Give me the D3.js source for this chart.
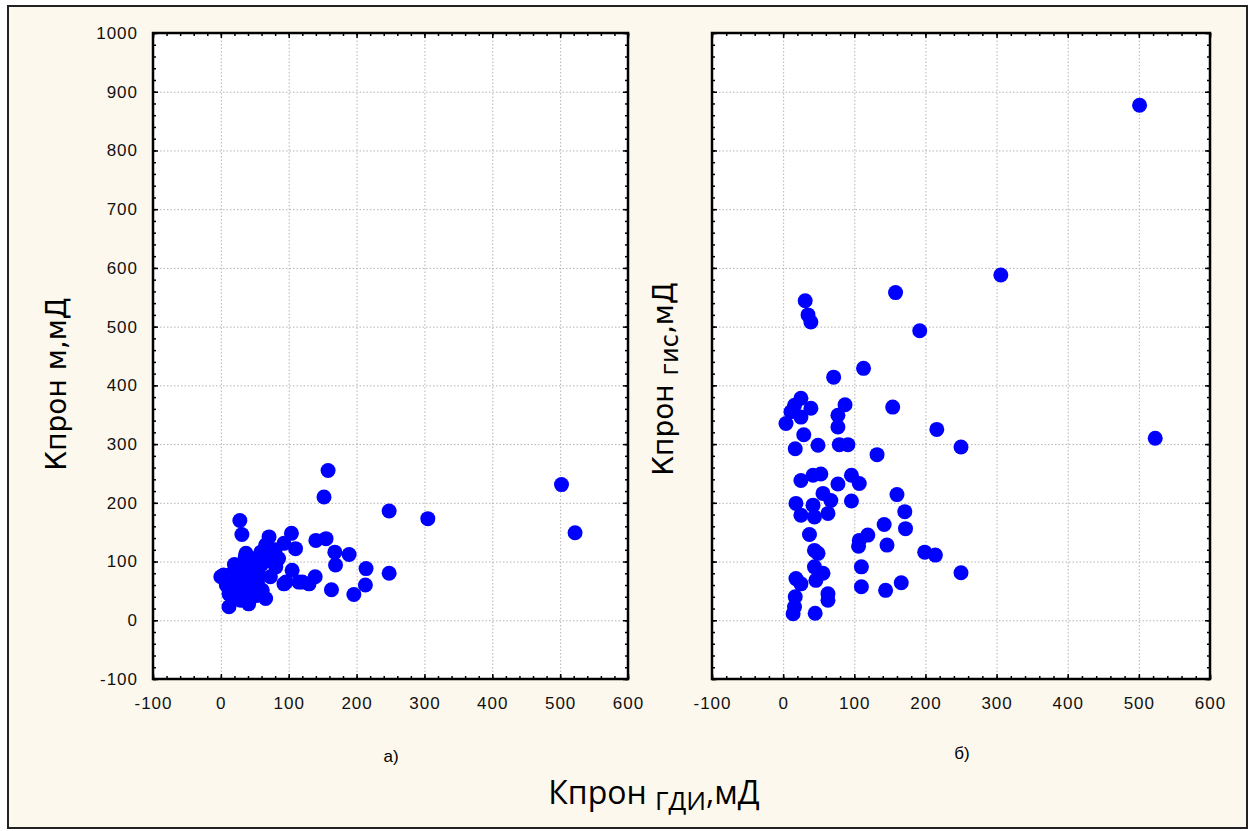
<!DOCTYPE html>
<html lang='ru'>
<head>
<meta charset='UTF-8'/>
<title>Кпрон scatter</title>
<script src='https://cdnjs.cloudflare.com/ajax/libs/d3/7.8.5/d3.min.js'></script>
<style>
  body {margin: 0; background: #fff;}
  .tick text {font-family: 'Liberation Sans', Arial, sans-serif; font-size: 17px; letter-spacing: 1px; fill: #111;}
  .ttl {font-family: 'DejaVu Sans', sans-serif; fill: #000;}
</style>
</head>
<body>
<div class='graph'></div>
<script>
// tick values
var xTicks = [-100, 0, 100, 200, 300, 400, 500, 600];
var yTicks = [-100, 0, 100, 200, 300, 400, 500, 600, 700, 800, 900, 1000];

// panel а): Кпрон ГДИ vs Кпрон м
var leftX = [0, 4, 10, 17, 12, 17, 22, 27, 29, 28, 31, 32, 37, 36, 41, 41, 46, 45, 50, 54,
  59, 61, 66, 66, 71, 73, 81, 93, 93, 96, 104, 105, 110, 115, 120, 130, 139, 140, 155, 152,
  158, 163, 168, 169, 189, 196, 213, 214, 248, 248, 305, 502, 522, 24, 14, 52,
  8, 20, 35, 42, 55, 60, 30, 48, 65, 80, 85, 75, 40, 12, 25, 50];
var leftY = [74, 77, 70, 80, 23, 40, 57, 91, 34, 170, 146, 65, 114, 108, 28, 60, 97, 80, 90, 65,
  116, 51, 37, 128, 142, 74, 91, 131, 62, 65, 148, 85, 122, 65, 65, 62, 74, 136, 139, 210,
  255, 52, 116, 94, 112, 44, 60, 88, 186, 80, 173, 231, 149, 48, 52, 42,
  60, 95, 85, 100, 80, 95, 50, 45, 110, 120, 105, 100, 75, 45, 70, 105];

// panel б): Кпрон ГДИ vs Кпрон гис
var rightX = [4, 11, 16, 25, 39, 25, 29, 17, 49, 79, 91, 31, 35, 39, 71, 113, 158, 192, 87, 77,
  77, 154, 132, 216, 250, 306, 501, 523, 25, 42, 53, 96, 107, 77, 56, 67, 96, 160, 18, 42,
  25, 44, 63, 171, 172, 142, 37, 119, 107, 106, 146, 44, 49, 199, 214, 250, 110, 44, 56, 46,
  18, 25, 110, 144, 166, 63, 63, 17, 16, 14, 45];
var rightY = [335, 355, 366, 378, 361, 346, 316, 292, 298, 299, 299, 544, 520, 508, 414, 429, 558, 493, 367, 349,
  329, 363, 282, 325, 295, 588, 877, 310, 238, 247, 249, 247, 233, 232, 216, 204, 203, 214, 199, 196,
  179, 176, 182, 185, 156, 163, 146, 145, 136, 126, 128, 119, 114, 116, 111, 81, 91, 91, 80, 68,
  71, 62, 57, 51, 64, 45, 34, 40, 23, 11, 12];

var W = 1250, H = 831;
var svg = d3.select('.graph').append('svg')
  .attr('width', W).attr('height', H);

// outer frame
svg.append('rect')
  .attr('x', 8).attr('y', 6).attr('width', 1239).attr('height', 822)
  .attr('fill', '#fdf8ed').attr('stroke', '#222').attr('stroke-width', 2);

var minorX = d3.range(-100, 601, 20);
var minorY = d3.range(-100, 1001, 20);
var plain = d => String(d);

function panel(x0, x1, xs, ys, showY) {
  var top = 33, bottom = 679;
  var x = d3.scaleLinear().domain([-100, 600]).range([x0, x1]);
  var y = d3.scaleLinear().domain([-100, 1000]).range([bottom, top]);
  var g = svg.append('g');

  g.append('rect').attr('x', x0).attr('y', top)
    .attr('width', x1 - x0).attr('height', bottom - top).attr('fill', '#fff');

  // dotted grid
  var grid = g.append('g').attr('class', 'grid');
  grid.append('g').attr('transform', 'translate(0,' + bottom + ')')
    .call(d3.axisBottom(x).tickValues(xTicks.slice(1, -1)).tickSize(-(bottom - top)).tickFormat(''));
  grid.append('g').attr('transform', 'translate(' + x0 + ',0)')
    .call(d3.axisLeft(y).tickValues(yTicks.slice(1, -1)).tickSize(-(x1 - x0)).tickFormat(''));
  grid.selectAll('.domain').remove();
  grid.selectAll('line').attr('stroke', '#b4b4b4').attr('stroke-dasharray', '1.5,2');

  // points
  g.selectAll('circle').data(xs).enter().append('circle')
    .attr('cx', d => x(d))
    .attr('cy', (d, i) => y(ys[i]))
    .attr('r', 7.5)
    .attr('fill', '#0000ff');

  // minor ticks on all sides
  var tk = g.append('g');
  tk.append('g').attr('transform', 'translate(0,' + bottom + ')')
    .call(d3.axisBottom(x).tickValues(minorX).tickSize(-3).tickFormat(''));
  tk.append('g').attr('transform', 'translate(0,' + top + ')')
    .call(d3.axisTop(x).tickValues(minorX).tickSize(-3).tickFormat(''));
  tk.append('g').attr('transform', 'translate(' + x0 + ',0)')
    .call(d3.axisLeft(y).tickValues(minorY).tickSize(-3).tickFormat(''));
  tk.append('g').attr('transform', 'translate(' + x1 + ',0)')
    .call(d3.axisRight(y).tickValues(minorY).tickSize(-3).tickFormat(''));
  // major ticks
  tk.append('g').attr('transform', 'translate(0,' + top + ')')
    .call(d3.axisTop(x).tickValues(xTicks).tickSize(-5).tickFormat(''));
  tk.append('g').attr('transform', 'translate(' + x1 + ',0)')
    .call(d3.axisRight(y).tickValues(yTicks).tickSize(-5).tickFormat(''));
  tk.append('g').attr('transform', 'translate(0,' + bottom + ')')
    .call(d3.axisBottom(x).tickValues(xTicks).tickSize(-5).tickPadding(18).tickFormat(plain));
  tk.append('g').attr('transform', 'translate(' + x0 + ',0)')
    .call(d3.axisLeft(y).tickValues(yTicks).tickSize(-5).tickPadding(15)
      .tickFormat(showY ? plain : ''));
  tk.selectAll('.domain').remove();
  tk.selectAll('line').attr('stroke', '#000').attr('stroke-width', 1.5);

  g.append('rect').attr('x', x0).attr('y', top)
    .attr('width', x1 - x0).attr('height', bottom - top)
    .attr('fill', 'none').attr('stroke', '#000').attr('stroke-width', 2.5);
  return x;
}

panel(153, 628, leftX, leftY, true);
panel(712, 1210, rightX, rightY, false);

// titles
svg.append('text').attr('class', 'ttl')
  .attr('transform', 'translate(66,384) rotate(-90)')
  .attr('text-anchor', 'middle').style('font-size', '28px')
  .text('Кпрон м,мД');

var t2 = svg.append('text').attr('class', 'ttl')
  .attr('transform', 'translate(673,379) rotate(-90)')
  .attr('text-anchor', 'middle').style('font-size', '28px');
t2.append('tspan').text('Кпрон ');
t2.append('tspan').attr('dy', 5).style('font-size', '24px').text('гис');
t2.append('tspan').attr('dy', -5).text(',мД');

var t3 = svg.append('text').attr('class', 'ttl')
  .attr('x', 654).attr('y', 804)
  .attr('text-anchor', 'middle').style('font-family', "'Open Sans', sans-serif").style('font-size', '32px');
t3.append('tspan').text('Кпрон ');
t3.append('tspan').attr('dy', 6).style('font-size', '26px').text('ГДИ');
t3.append('tspan').attr('dy', -6).text(',мД');

svg.append('text').attr('x', 391).attr('y', 762).attr('text-anchor', 'middle')
  .style('font-family', "'Liberation Sans', Arial, sans-serif").style('font-size', '17px')
  .text('а)');
svg.append('text').attr('x', 962).attr('y', 759).attr('text-anchor', 'middle')
  .style('font-family', "'Liberation Sans', Arial, sans-serif").style('font-size', '17px')
  .text('б)');
</script>
</body>
</html>
